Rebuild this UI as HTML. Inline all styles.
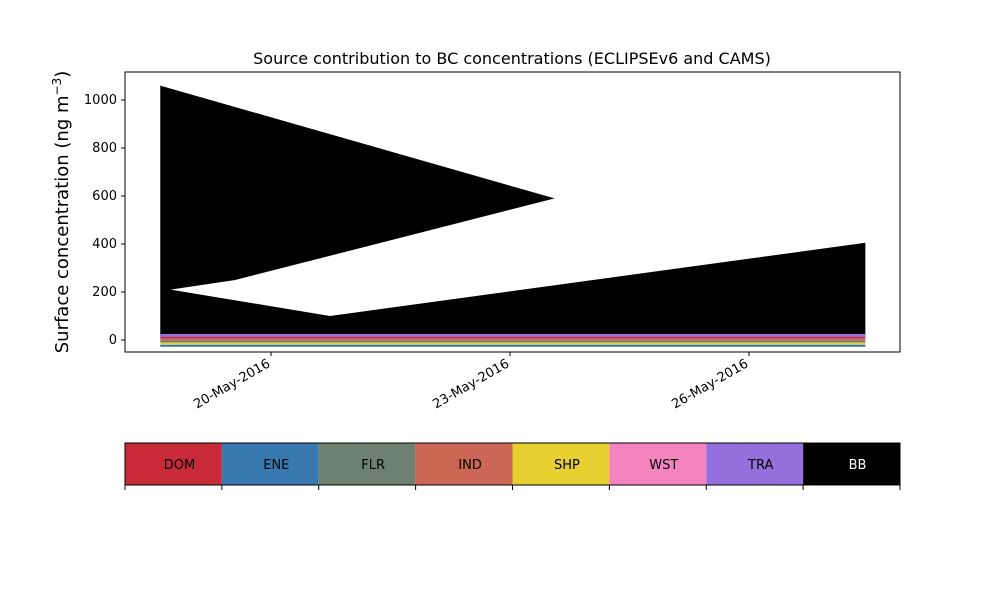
<!DOCTYPE html>
<html><head><meta charset="utf-8"><style>
body{margin:0;background:#fff;}
svg text{font-family:"DejaVu Sans","Liberation Sans",sans-serif;}
</style></head><body>
<svg id="c" width="1000" height="600" xmlns="http://www.w3.org/2000/svg">
<text x="512" y="64" font-size="16" text-anchor="middle">Source contribution to BC concentrations (ECLIPSEv6 and CAMS)</text>
<text transform="translate(68,212) rotate(-90)" font-size="18" text-anchor="middle">Surface concentration (ng m<tspan baseline-shift="super" font-size="12">−3</tspan>)</text>
<g id="plot"></g>
<g id="cbar"></g>
</svg>
<script>
// data: day offsets from 1-May-2016 and values (ng m-3)
const days = [18.61, 23.56, 19.55, 18.74, 20.74, 27.46];
const bbValues = [1045, 575, 235, 195, 85, 390];
const baseValues = [15, 15, 15, 15, 15, 15];
const yTicks = [0, 200, 400, 600, 800, 1000];
const xTickDays = [20, 23, 26];
const xTickLabels = ["20-May-2016", "23-May-2016", "26-May-2016"];
const sources = ["DOM","ENE","FLR","IND","SHP","WST","TRA","BB"];
const sourceColors = ["#c82a3a","#3878b0","#6e8070","#cc6655","#e8d030","#f484c0","#9370db","#000000"];

const NS="http://www.w3.org/2000/svg";
const L=125,R=900,T=72,B=352;
const xs=d=>271+(d-20)*79.67;
const ys=v=>340-v*0.24;
const plot=document.getElementById('plot');
function mk(tag,attrs,parent){const e=document.createElementNS(NS,tag);for(const k in attrs)e.setAttribute(k,attrs[k]);parent.appendChild(e);return e;}

// BB stack polygon
let pts=days.map((d,i)=>xs(d)+","+ys(bbValues[i]+baseValues[i]));
const minD=Math.min(...days),maxD=Math.max(...days);
pts.push(xs(maxD)+","+ys(baseValues[5]));
pts.push(xs(minD)+","+ys(baseValues[0]));
const bb=mk('polygon',{points:pts.join(' '),fill:'#000'},plot);


// thin lower stacks
const lineCols=["#c82a3a","#cc6655","#6e8070","#e8d030","#3878b0","#9370db"];
lineCols.forEach((c,i)=>{
  const l=mk('rect',{x:xs(minD),y:ys(baseValues[0])+i*0.1+ (i===5?-3:i*2),width:xs(maxD)-xs(minD),height:i===5?3:2,fill:c},plot);
  
  
});
const fr=mk('rect',{x:L,y:T,width:R-L,height:B-T,fill:'none',stroke:'#000','stroke-width':1},plot);


yTicks.forEach(v=>{
  const y=ys(v);
  const t=mk('line',{x1:L-4,x2:L,y1:y,y2:y,stroke:'#000'},plot);
  
  
  const tx=mk('text',{x:L-8,y:y+4,'font-size':13,'text-anchor':'end'},plot);
  tx.textContent=v;
  
  
});
xTickDays.forEach((d,i)=>{
  const x=xs(d);
  const t=mk('line',{x1:x,x2:x,y1:B,y2:B+4,stroke:'#000'},plot);
  
  
  const tx=mk('text',{x:x,y:B+14,'font-size':13,'text-anchor':'end',transform:`rotate(-30 ${x} ${B+14})`},plot);
  tx.textContent=xTickLabels[i];
  
  
});
// colorbar
const cb=document.getElementById('cbar');
const w=(R-L)/sources.length;
sources.forEach((s,i)=>{
  const x=L+i*w;
  const r=mk('rect',{x:x,y:443,width:w,height:42,fill:sourceColors[i]},cb);
  
  
  const tx=mk('text',{x:x+w/2+6,y:469,'font-size':13,'text-anchor':'middle',fill:s==='BB'?'#fff':'#000'},cb);
  tx.textContent=s;
  
  
});
for(let i=0;i<=sources.length;i++){
  const x=L+i*w;
  const t=mk('line',{x1:x,x2:x,y1:485,y2:490,stroke:'#000'},cb);
  
  
}
const cf=mk('rect',{x:L,y:443,width:R-L,height:42,fill:'none',stroke:'#000'},cb);


</script>
</body></html>
